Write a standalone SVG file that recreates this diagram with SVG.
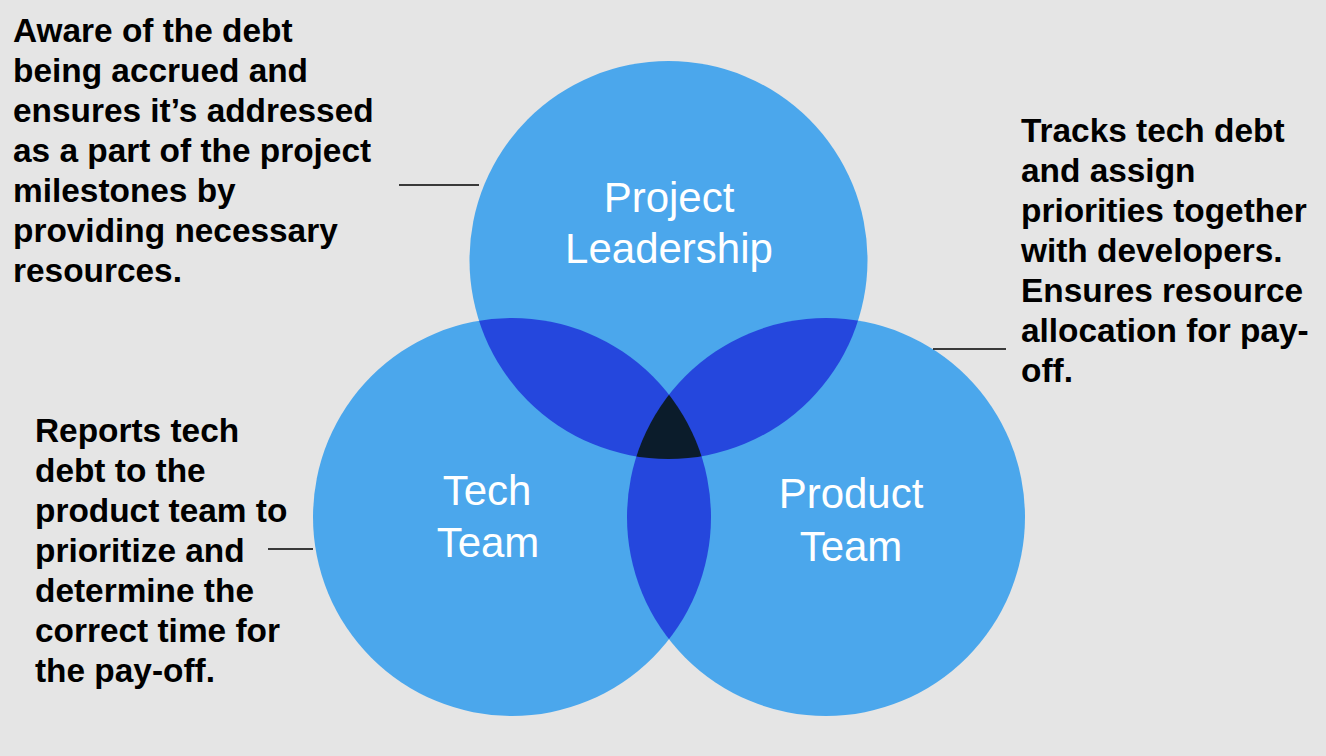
<svg xmlns="http://www.w3.org/2000/svg" width="1326" height="756" viewBox="0 0 1326 756">
  <style>
    .set { fill: #4BA7EC; }
    .pair { fill: #2547DD; }
    .core { fill: #0B1C2B; }
    .label { font-family: "Liberation Sans", Arial, sans-serif; font-size: 42px; fill: #FFFFFF; text-anchor: middle; }
    .note { font-family: "Liberation Sans", Arial, sans-serif; font-size: 33.4px; font-weight: bold; fill: #000000; }
    .leader { stroke: #000000; stroke-width: 1.3; fill: none; }
  </style>
  <defs>
    <circle id="cLead" cx="668.5" cy="260" r="199"/>
    <circle id="cTech" cx="512" cy="517" r="199"/>
    <circle id="cProd" cx="826" cy="517" r="199"/>
    <clipPath id="clipLead"><use href="#cLead"/></clipPath>
    <clipPath id="clipTech"><use href="#cTech"/></clipPath>
    <clipPath id="clipProd"><use href="#cProd"/></clipPath>
  </defs>

  <rect width="1326" height="756" fill="#E5E5E5"/>

  <!-- the three sets -->
  <g id="node-project-leadership">
    <use href="#cLead" class="set"/>
  </g>
  <g id="node-tech-team">
    <use href="#cTech" class="set"/>
  </g>
  <g id="node-product-team">
    <use href="#cProd" class="set"/>
  </g>

  <!-- pairwise overlaps -->
  <g id="overlaps">
    <use href="#cTech" class="pair" clip-path="url(#clipLead)"/>
    <use href="#cProd" class="pair" clip-path="url(#clipLead)"/>
    <use href="#cProd" class="pair" clip-path="url(#clipTech)"/>
    <!-- shared by all three -->
    <g clip-path="url(#clipLead)">
      <use href="#cProd" class="core" clip-path="url(#clipTech)"/>
    </g>
  </g>

  <!-- set names -->
  <g id="labels">
    <text class="label" x="669" y="212">Project</text>
    <text class="label" x="669" y="263">Leadership</text>
    <text class="label" x="487" y="505">Tech</text>
    <text class="label" x="488" y="557">Team</text>
    <text class="label" x="851" y="508">Product</text>
    <text class="label" x="851" y="561">Team</text>
  </g>

  <!-- leader lines -->
  <g id="connectors">
    <line class="leader" x1="399" y1="185" x2="479" y2="185"/>
    <line class="leader" x1="933" y1="349" x2="1006" y2="349"/>
    <line class="leader" x1="268" y1="549" x2="313" y2="549"/>
  </g>

  <g id="note-leadership">
    <text class="note" x="13" y="42">Aware of the debt</text>
    <text class="note" x="13" y="82">being accrued and</text>
    <text class="note" x="13" y="122">ensures it’s addressed</text>
    <text class="note" x="13" y="162">as a part of the project</text>
    <text class="note" x="13" y="202">milestones by</text>
    <text class="note" x="13" y="242">providing necessary</text>
    <text class="note" x="13" y="282">resources.</text>
  </g>

  <g id="note-product">
    <text class="note" x="1021" y="142">Tracks tech debt</text>
    <text class="note" x="1021" y="182">and assign</text>
    <text class="note" x="1021" y="222">priorities together</text>
    <text class="note" x="1021" y="262">with developers.</text>
    <text class="note" x="1021" y="302">Ensures resource</text>
    <text class="note" x="1021" y="342">allocation for pay-</text>
    <text class="note" x="1021" y="382">off.</text>
  </g>

  <g id="note-tech">
    <text class="note" x="35" y="442">Reports tech</text>
    <text class="note" x="35" y="482">debt to the</text>
    <text class="note" x="35" y="522">product team to</text>
    <text class="note" x="35" y="562">prioritize and</text>
    <text class="note" x="35" y="602">determine the</text>
    <text class="note" x="35" y="642">correct time for</text>
    <text class="note" x="35" y="682">the pay-off.</text>
  </g>
</svg>
